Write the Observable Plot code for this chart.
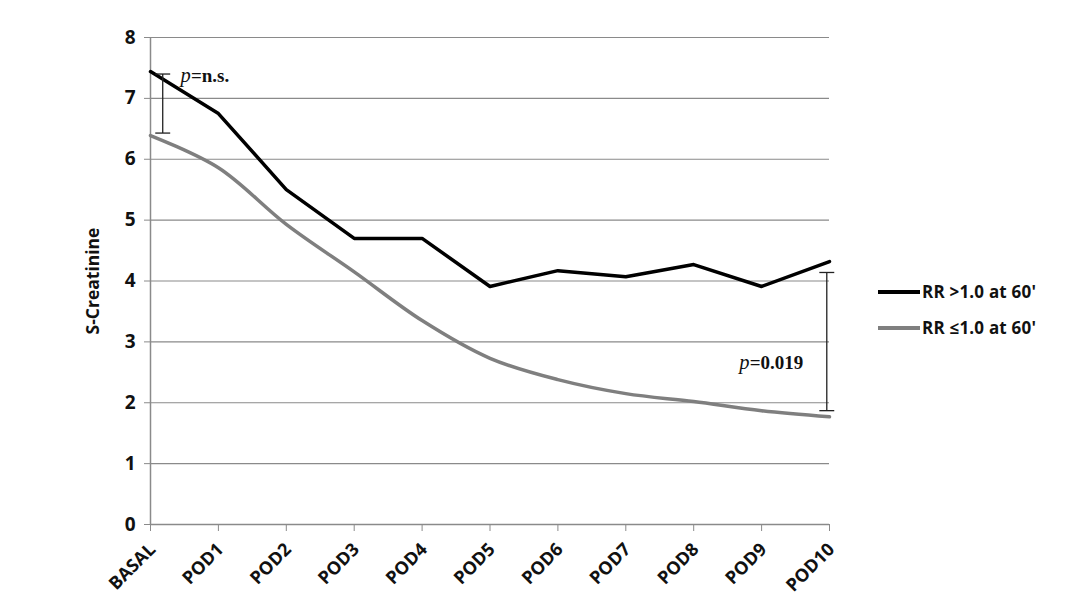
<!DOCTYPE html>
<html>
<head>
<meta charset="utf-8">
<script src="https://cdn.jsdelivr.net/npm/d3@7"></script>
<script src="https://cdn.jsdelivr.net/npm/@observablehq/plot@0.6"></script>
<style>
  html, body { margin: 0; padding: 0; background: #fff; }
  #wrap { position: relative; width: 1080px; height: 606px; }
  #wrap svg g[aria-label="y-axis tick label"], #wrap svg g[aria-label="y-axis tick label"] text { font-size: 19px !important; font-weight: 700; }
  #wrap svg g[aria-label="x-axis tick label"], #wrap svg g[aria-label="x-axis tick label"] text { font-size: 18px !important; font-weight: 700; }
  #wrap svg g[aria-label="y-axis label"] { font-size: 17.5px !important; font-weight: 700; }
  .legend { position: absolute; left: 878px; font-family: "Open Sans", "Liberation Sans", sans-serif; font-weight: 700; font-size: 17px; letter-spacing: 0.2px; color: #111; display: flex; align-items: center; }
  .legend .sw { display: inline-block; width: 42px; height: 4px; margin-right: 2px; }
</style>
</head>
<body>
<div id="wrap"></div>
<script>
const categories = ["BASAL","POD1","POD2","POD3","POD4","POD5","POD6","POD7","POD8","POD9","POD10"];
const seriesNames = ["RR >1.0 at 60'", "RR \u22641.0 at 60'"];
const seriesColors = ["#000000", "#7f7f7f"];
const rrHigh = [7.44, 6.75, 5.50, 4.70, 4.70, 3.91, 4.17, 4.07, 4.27, 3.91, 4.32];
const rrLow  = [6.39, 5.86, 4.93, 4.15, 3.35, 2.73, 2.38, 2.15, 2.02, 1.87, 1.77];
const yTicks = [0, 1, 2, 3, 4, 5, 6, 7, 8];
// significance bars: position (category index), low, high
const sigPos = [0.18, 9.96];
const sigLow = [6.43, 1.87];
const sigHigh = [7.40, 4.14];
const sigLabels = ["=n.s.", "=0.019"];
const sigLabelPos = [0.44, 8.67];
const sigLabelY = [7.37, 2.66];

const highData = categories.map((c, i) => ({i, v: rrHigh[i]}));
const lowData = categories.map((c, i) => ({i, v: rrLow[i]}));
const sigData = sigPos.map((p, k) => ({p, lo: sigLow[k], hi: sigHigh[k], lx: sigLabelPos[k], ly: sigLabelY[k], t: sigLabels[k]}));
const capW = 0.11;
const xIdx = categories.map((c, i) => i);

const chart = Plot.plot({
  width: 1080,
  height: 606,
  marginLeft: 150,
  marginRight: 251,
  marginTop: 37,
  marginBottom: 82,
  style: {fontFamily: "'Open Sans', 'Liberation Sans', sans-serif", background: "#fff", overflow: "visible"},
  x: {type: "linear", domain: [0, categories.length - 1]},
  y: {domain: [0, 8]},
  marks: [
    Plot.gridY(yTicks, {stroke: "#8a8a8a", strokeOpacity: 1, strokeWidth: 1.2}),
    Plot.ruleX([0], {stroke: "#8a8a8a", strokeWidth: 1.5}),
    Plot.ruleY([0], {stroke: "#8a8a8a", strokeWidth: 1.5}),
    Plot.axisY({ticks: yTicks, tickSize: 6, tickPadding: 9, stroke: "#8a8a8a", fill: "#111",
      label: "S-Creatinine", labelAnchor: "center", labelArrow: "none", labelOffset: 64}),
    Plot.axisX({ticks: xIdx, tickFormat: () => "", tickSize: 7, stroke: "#8a8a8a", label: null}),
    Plot.axisX({ticks: xIdx, tickFormat: i => categories[i],
      tickSize: 0, tickRotate: -45, tickPadding: 22, dx: 2, fill: "#111", label: null}),
    Plot.line(lowData, {x: "i", y: "v", stroke: seriesColors[1], strokeWidth: 3.5, curve: "catmull-rom"}),
    Plot.line(highData, {x: "i", y: "v", stroke: seriesColors[0], strokeWidth: 3.5, curve: "linear"}),
    Plot.link(sigData, {x1: "p", x2: "p", y1: "lo", y2: "hi", stroke: "#222", strokeWidth: 1.3}),
    Plot.link(sigData, {x1: d => d.p - capW, x2: d => d.p + capW, y1: "lo", y2: "lo", stroke: "#222", strokeWidth: 1.3}),
    Plot.link(sigData, {x1: d => d.p - capW, x2: d => d.p + capW, y1: "hi", y2: "hi", stroke: "#222", strokeWidth: 1.3}),
    Plot.text(sigData, {x: "lx", y: "ly", text: () => "p", textAnchor: "start", fontFamily: "'Liberation Serif', 'DejaVu Serif', serif", fontStyle: "italic", fontWeight: 400, fontSize: 20.5, fill: "#111"}),
    Plot.text(sigData, {x: "lx", y: "ly", text: "t", dx: 10.5, textAnchor: "start", fontFamily: "'Liberation Serif', 'DejaVu Serif', serif", fontWeight: 700, fontSize: 19, fill: "#111"})
  ]
});
const wrap = document.getElementById("wrap");
wrap.appendChild(chart);
const legTop = [280, 316];
seriesNames.forEach((name, k) => {
  const d = document.createElement("div");
  d.className = "legend";
  d.style.top = legTop[k] + "px";
  const sw = document.createElement("span");
  sw.className = "sw";
  sw.style.background = seriesColors[k];
  d.appendChild(sw);
  d.appendChild(document.createTextNode(name));
  wrap.appendChild(d);
});
</script>
</body>
</html>
